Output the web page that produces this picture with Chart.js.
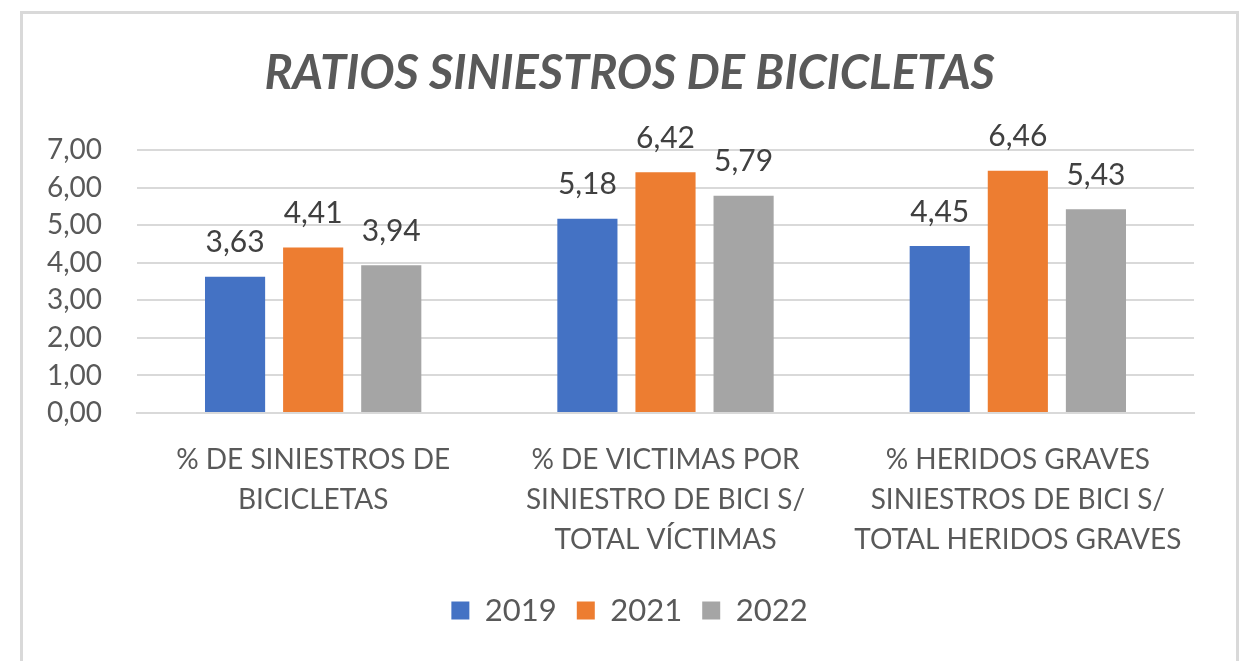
<!DOCTYPE html>
<html>
<head>
<meta charset="utf-8">
<script src="https://cdn.jsdelivr.net/npm/chart.js@4.4.1/dist/chart.umd.min.js"></script>
<style>
  html, body { margin: 0; padding: 0; background: #fff; }
  #frame {
    position: absolute; left: 20px; top: 11px;
    width: 1213px; height: 660px;
    border: 3px solid #d9d9d9; border-bottom: none;
  }
  canvas { display: block; }
</style>
</head>
<body>
<div id="frame"><canvas id="chart" width="1213" height="650"></canvas></div>
<script>
// ── datos ──
const categories = [
  ['% DE SINIESTROS DE', 'BICICLETAS'],
  ['% DE VICTIMAS POR', 'SINIESTRO DE BICI S/', 'TOTAL VÍCTIMAS'],
  ['% HERIDOS GRAVES', 'SINIESTROS DE BICI S/', 'TOTAL HERIDOS GRAVES']
];
const years   = ['2019', '2021', '2022'];
const v2019   = [3.63, 5.18, 4.45];
const v2021   = [4.41, 6.42, 6.46];
const v2022   = [3.94, 5.79, 5.43];
const colors  = ['#4472C4', '#ED7D31', '#A5A5A5'];

const TEXT = '#595959';
const GRID = '#d9d9d9';
const FONT = 'Lato, "Open Sans", sans-serif';

const fmtEs = v => v.toFixed(2).replace('.', ',');

// etiquetas encima de cada barra
const valueLabels = {
  id: 'valueLabels',
  afterDatasetsDraw(c) {
    const ctx = c.ctx;
    ctx.save();
    ctx.font = '30px ' + FONT;
    ctx.fillStyle = '#404040';
    ctx.textAlign = 'center';
    ctx.textBaseline = 'bottom';
    c.data.datasets.forEach((ds, i) => {
      c.getDatasetMeta(i).data.forEach((bar, j) => {
        ctx.fillText(fmtEs(ds.data[j]), bar.x, bar.y - 19);
      });
    });
    ctx.restore();
  }
};

const series = [v2019, v2021, v2022];

new Chart(document.getElementById('chart'), {
  type: 'bar',
  data: {
    labels: categories,
    datasets: series.map((d, i) => ({
      label: years[i],
      data: d,
      backgroundColor: colors[i],
      categoryPercentage: 0.665,
      barPercentage: 0.77,
    }))
  },
  options: {
    responsive: false,
    animation: false,
    layout: { padding: { left: 0, right: 0, top: 0, bottom: 28 } },
    plugins: {
      title: {
        display: true,
        text: 'RATIOS SINIESTROS DE BICICLETAS',
        color: TEXT,
        font: { family: FONT, size: 47, weight: 'bold', style: 'italic' },
        padding: { top: 32, bottom: 48 }
      },
      legend: {
        position: 'bottom',
        labels: {
          color: TEXT,
          boxWidth: 18, boxHeight: 18,
          padding: 20,
          font: { family: FONT, size: 31 }
        }
      },
      tooltip: { enabled: false }
    },
    scales: {
      x: {
        afterFit: s => { s.height = 162; },
        grid: { display: false, drawTicks: false },
        border: { color: GRID, width: 2 },
        ticks: {
          color: TEXT, padding: 27, maxRotation: 0,
          font: { family: FONT, size: 28, lineHeight: 1.43 }
        }
      },
      y: {
        min: 0, max: 7,
        afterFit: s => { s.width = 114; },
        grid: { color: GRID, lineWidth: 2, drawTicks: false },
        border: { display: false },
        ticks: {
          stepSize: 1, color: TEXT, padding: 35,
          font: { family: FONT, size: 28 },
          callback: v => fmtEs(v)
        }
      },
      // eje vacío a la derecha para dejar margen y centrar el título
      yr: {
        position: 'right',
        afterFit: s => { s.width = 42; },
        grid: { display: false, drawTicks: false },
        border: { display: false },
        ticks: { display: false }
      }
    }
  },
  plugins: [valueLabels]
});
</script>
</body>
</html>
